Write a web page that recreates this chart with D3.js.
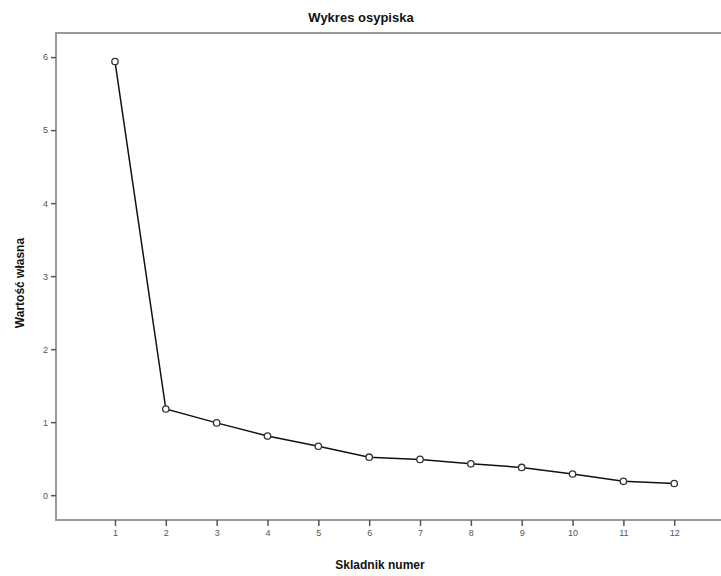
<!DOCTYPE html>
<html>
<head>
<meta charset="utf-8">
<script src="https://cdn.jsdelivr.net/npm/d3@7"></script>
<style>
  body { margin: 0; background: #fff; }
  text { font-family: "Liberation Sans", Arial, sans-serif; }
</style>
</head>
<body>
<div id="chart"></div>
<script>
var width = 721,
    height = 576;

// data
var components = [1, 2, 3, 4, 5, 6, 7, 8, 9, 10, 11, 12];
var eigenvalues = [5.94, 1.18, 0.99, 0.81, 0.67, 0.52, 0.49, 0.43, 0.38, 0.29, 0.19, 0.16];
var yTicks = [0, 1, 2, 3, 4, 5, 6];

// plot frame (note: "top" is taken by window.top)
var plotLeft = 56, plotTop = 33, plotBottom = 520, plotRight = 721;

var svg = d3.select("#chart").append("svg")
    .attr("width", width)
    .attr("height", height);

var x = d3.scaleLinear()
    .domain([-0.16, 12.92])
    .range([plotLeft, plotRight]);

var y = d3.scaleLinear()
    .domain([-0.34, 6.33])
    .range([plotBottom, plotTop]);

// frame
svg.append("path")
    .attr("d", "M" + plotRight + "," + plotTop + "H" + plotLeft + "V" + plotBottom + "H" + plotRight)
    .attr("fill", "none")
    .attr("stroke", "#9a9a9a")
    .attr("stroke-width", 2);

// y axis
var yAxis = svg.append("g")
    .attr("transform", "translate(" + plotLeft + ",0)")
    .call(d3.axisLeft(y).tickValues(yTicks).tickFormat(d3.format("d")).tickSize(5).tickPadding(3));
yAxis.select(".domain").remove();
yAxis.selectAll("line").attr("stroke", "#555").attr("stroke-width", 1.5);
yAxis.selectAll("text")
    .attr("fill", "#555")
    .style("font-size", "9px")
    .style("font-family", "Liberation Sans, Arial, sans-serif");

// x axis
var xAxis = svg.append("g")
    .attr("transform", "translate(0," + plotBottom + ")")
    .call(d3.axisBottom(x).tickValues(components).tickFormat(d3.format("d")).tickSize(6).tickPadding(4));
xAxis.select(".domain").remove();
xAxis.selectAll("line").attr("stroke", "#555").attr("stroke-width", 1.5);
xAxis.selectAll("text")
    .attr("fill", "#555")
    .style("font-size", "9px")
    .style("font-family", "Liberation Sans, Arial, sans-serif");

// line
var line = d3.line()
    .x(function(d, i) { return x(components[i]); })
    .y(function(d) { return y(d); });

svg.append("path")
    .datum(eigenvalues)
    .attr("d", line)
    .attr("fill", "none")
    .attr("stroke", "#111")
    .attr("stroke-width", 1.5);

svg.selectAll(".pt")
    .data(eigenvalues)
    .enter()
    .append("circle")
    .attr("class", "pt")
    .attr("cx", function(d, i) { return x(components[i]); })
    .attr("cy", function(d) { return y(d); })
    .attr("r", 3.2)
    .attr("fill", "#fff")
    .attr("stroke", "#333")
    .attr("stroke-width", 1.3);

// title
svg.append("text")
    .attr("x", 361)
    .attr("y", 22)
    .attr("text-anchor", "middle")
    .style("font-size", "13px")
    .style("font-weight", "bold")
    .attr("fill", "#111")
    .text("Wykres osypiska");

// axis labels
svg.append("text")
    .attr("x", 380)
    .attr("y", 569)
    .attr("text-anchor", "middle")
    .style("font-size", "12px")
    .style("font-weight", "bold")
    .attr("fill", "#111")
    .text("Skladnik numer");

svg.append("text")
    .attr("transform", "translate(24,283) rotate(-90)")
    .attr("text-anchor", "middle")
    .style("font-size", "12px")
    .style("font-weight", "bold")
    .attr("fill", "#111")
    .text("Wartość własna");
</script>
</body>
</html>
